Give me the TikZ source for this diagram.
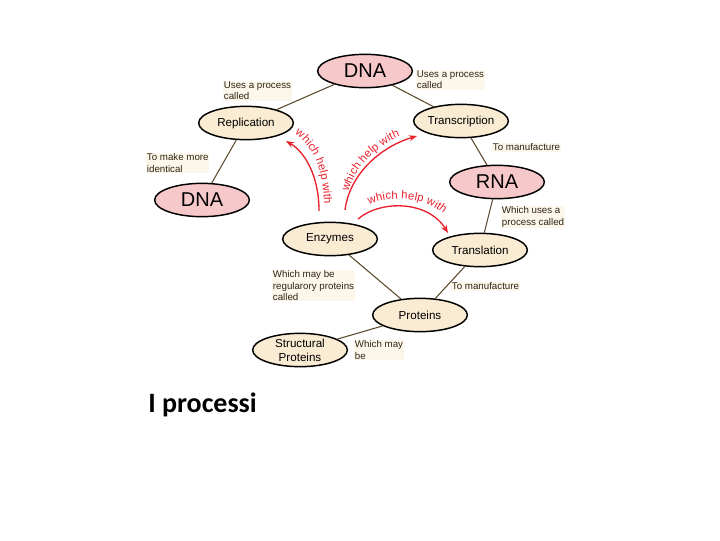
\documentclass[tikz,border=0pt]{standalone}
\usepackage{fontspec}
\setmainfont{Liberation Sans}
\newfontfamily\titlefont{Carlito}
\usetikzlibrary{shapes.geometric,arrows.meta,decorations.text}
\definecolor{molpink}{HTML}{F7C8CA}
\definecolor{ideacream}{HTML}{FAEBD3}
\definecolor{notecream}{HTML}{FDF6EA}
\definecolor{linkbrown}{HTML}{5C4A2C}
\definecolor{helpred}{HTML}{E8202C}
\tikzset{
  idea/.style={ellipse, draw=black, line width=1.1pt, fill=ideacream, minimum width=71pt,
    minimum height=25pt, inner sep=0pt, align=center, font=\fontsize{8.7}{10.5}\selectfont},
  molecule/.style={idea, fill=molpink, font=\fontsize{15}{17}\selectfont},
  link/.style={draw=linkbrown, line width=0.8pt},
  note/.style={anchor=north west, align=left, inner sep=0.5pt, fill=notecream,
    text=linkbrown!50!black, font=\fontsize{7.3}{8.4}\selectfont},
  helps/.style={draw=helpred, line width=1pt, -{Stealth[length=6pt,width=4.5pt]}},
  helpword/.style={decorate, decoration={text along path, text align=center, raise=1.5pt,
    text={|\fontsize{8.5}{10}\selectfont\color{helpred}|which help with}}}
}
\begin{document}
\begin{tikzpicture}[x=0.75pt,y=-0.75pt]
  \useasboundingbox (0,0) rectangle (720,540);
  % Concepts
  \node[molecule] (dnatop) at (365,71) {DNA};
  \node[idea] (repl) at (246,123) {Replication};
  \node[idea] (trans) at (461,121) {Transcription};
  \node[molecule] (rna) at (497,182) {RNA};
  \node[molecule] (dnaleft) at (202,200) {DNA};
  \node[idea] (enz) at (330,239) {Enzymes};
  \node[idea] (transl) at (480,250) {Translation};
  \node[idea] (prot) at (420,315) {Proteins};
  \node[idea] (struct) at (300,350) {Structural\\Proteins};
  % Links between concepts
  \draw[link] (dnatop) -- (repl);
  \draw[link] (dnatop) -- (trans);
  \draw[link] (repl) -- (dnaleft);
  \draw[link] (trans) -- (rna);
  \draw[link] (rna) -- (transl);
  \draw[link] (transl) -- (prot);
  \draw[link] (enz) -- (prot);
  \draw[link] (prot) -- (struct);
  % Link phrases
  \node[note] (n1) at (223,81) {Uses a process\\called};
  \node[note] (n2) at (416,70) {Uses a process\\called};
  \node[note] (n3) at (146,153) {To make more\\identical};
  \node[note] (n4) at (492,143) {To manufacture};
  \node[note] (n5) at (501,206) {Which uses a\\process called};
  \node[note] (n6) at (272,270) {Which may be\\regularory proteins\\called};
  \node[note] (n7) at (451,282) {To manufacture};
  \node[note] (n8) at (354,340) {Which may\\be};
  % Red arrows from the enzymes
  \coordinate (h1s) at (319,211);
  \coordinate (h1e) at (286,141);
  \coordinate (h2s) at (345,210);
  \coordinate (h2e) at (417,136);
  \coordinate (h3s) at (358,219);
  \coordinate (h3e) at (448,233);
  \draw[helps] (h1s) .. controls (319,176) and (305,152) .. (h1e);
  \path[helpword] (291,134) .. controls (311,146) and (322,170) .. (322,207);
  \draw[helps] (h2s) .. controls (350,172) and (383,146) .. (h2e);
  \path[helpword] (349,198) .. controls (356,166) and (380,146) .. (406,136);
  \draw[helps] (h3s) .. controls (380,200) and (428,200) .. (h3e);
  \path[helpword] (358,213) .. controls (380,196) and (428,194) .. (452,225);
  % Caption
  \node[anchor=base west, inner sep=0pt, font=\titlefont\bfseries\fontsize{21}{24}\selectfont] (title) at (148,412) {I processi};
\end{tikzpicture}
\end{document}
